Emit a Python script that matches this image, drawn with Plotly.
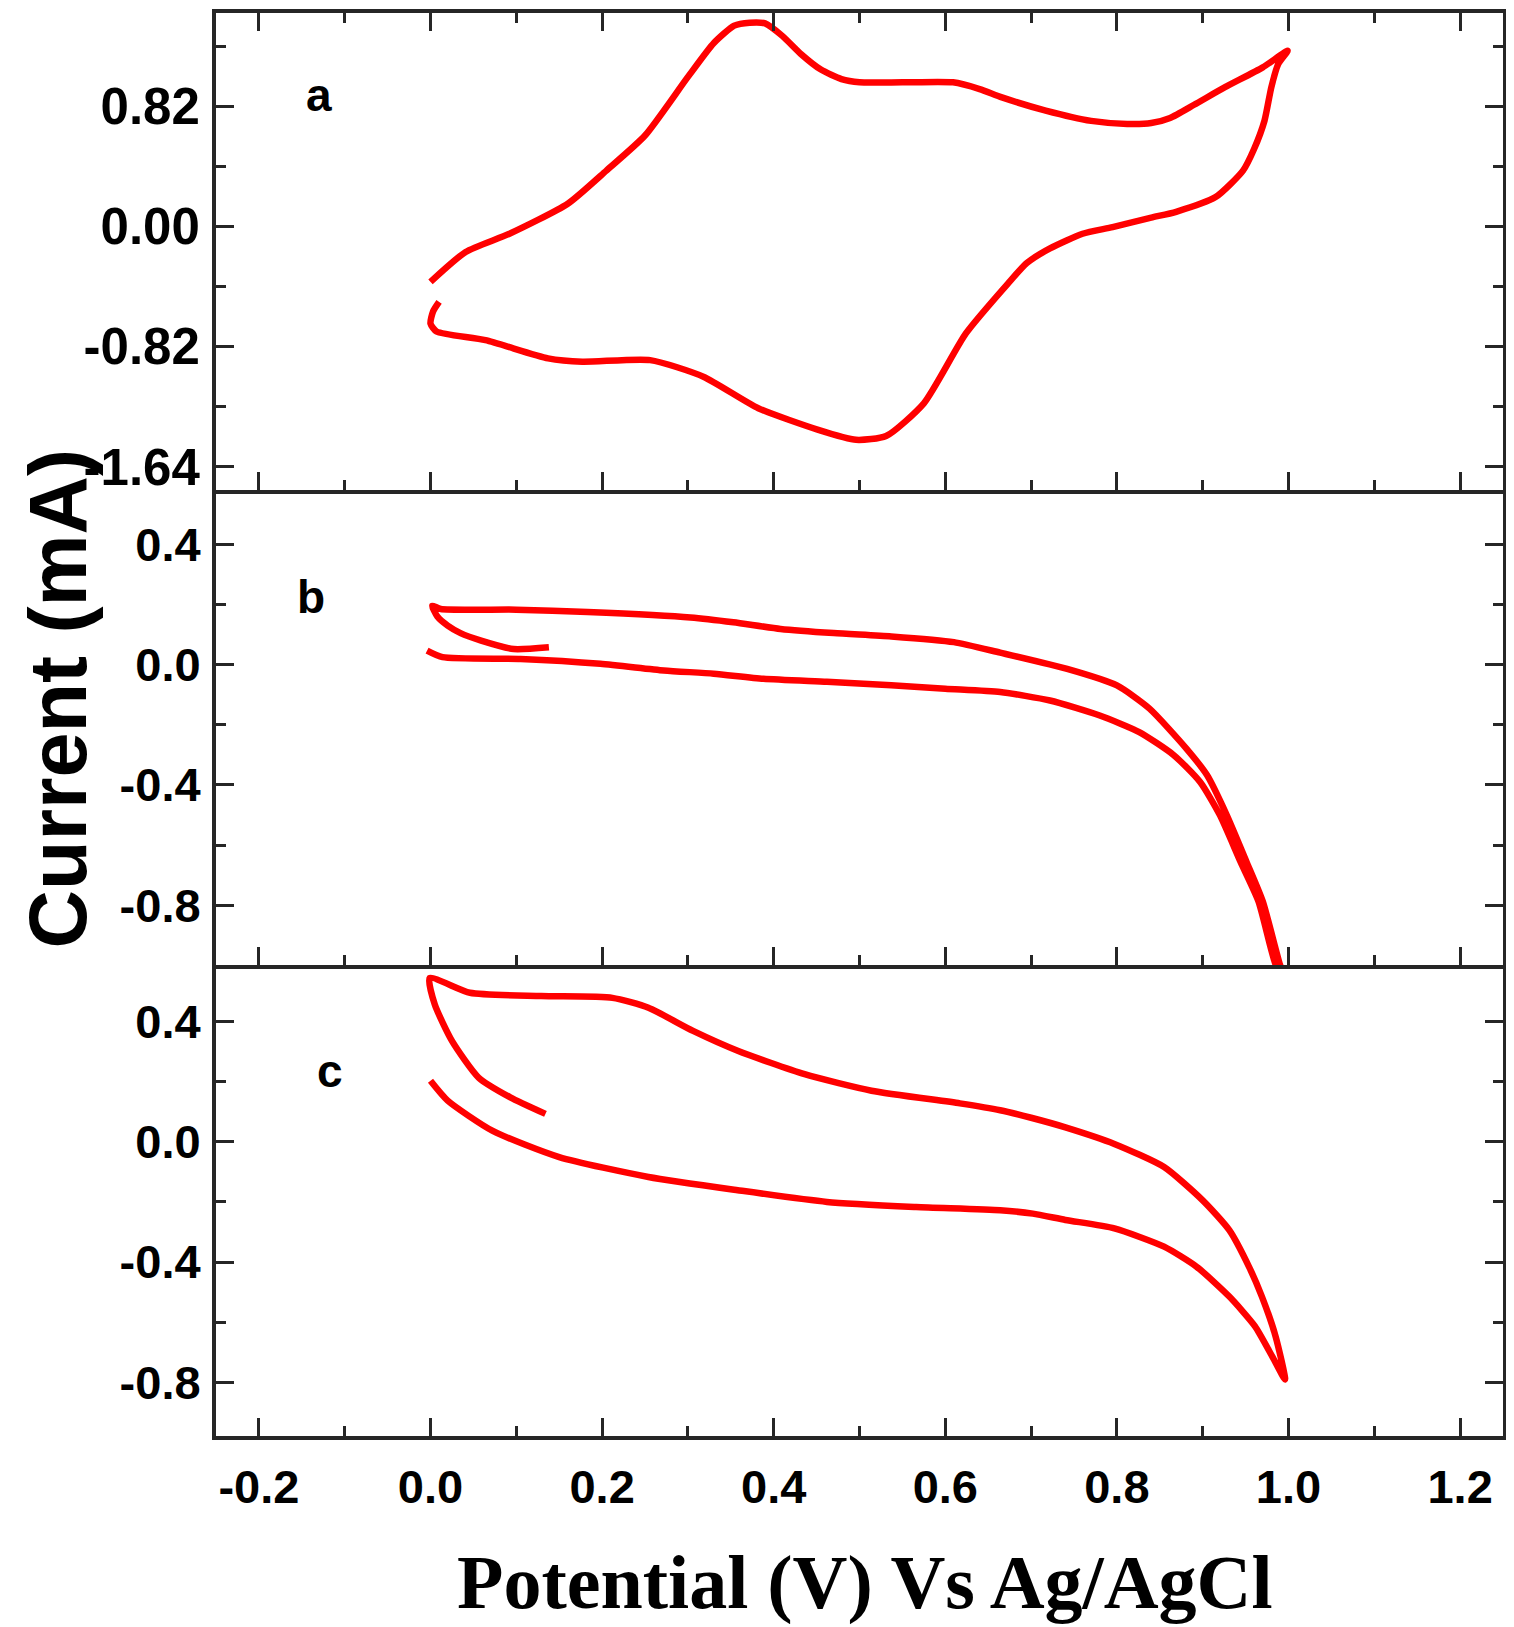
import plotly.graph_objects as go
from plotly.subplots import make_subplots

# panel a: potential (V) and current (mA), forward sweep then return sweep
a_volt = [0.000, 0.041, 0.092, 0.160, 0.205, 0.250, 0.300, 0.330, 0.354, 0.372, 0.390, 0.410,
          0.432, 0.455, 0.479, 0.500, 0.550, 0.609, 0.640, 0.666, 0.717, 0.770, 0.812, 0.840,
          0.862, 0.890, 0.926, 0.970, 0.999,
          0.988, 0.980, 0.972, 0.960, 0.947, 0.915, 0.869, 0.840, 0.795, 0.760, 0.722, 0.695,
          0.673, 0.624, 0.575, 0.531, 0.496, 0.452, 0.382, 0.318, 0.256, 0.177, 0.137, 0.064,
          0.007, 0.000, 0.003, 0.010]
a_curr = [-0.378, -0.174, -0.050, 0.155, 0.381, 0.620, 1.020, 1.250, 1.370, 1.390, 1.385, 1.300,
          1.175, 1.070, 1.005, 0.983, 0.983, 0.983, 0.937, 0.880, 0.790, 0.720, 0.699, 0.705,
          0.740, 0.830, 0.950, 1.085, 1.198,
          1.107, 0.950, 0.721, 0.530, 0.381, 0.200, 0.100, 0.060, -0.005, -0.050, -0.150, -0.250,
          -0.390, -0.730, -1.207, -1.430, -1.456, -1.388, -1.240, -1.025, -0.912, -0.923, -0.900, -0.776,
          -0.717, -0.663, -0.580, -0.515]

# panel b
b_volt = [0.138, 0.097, 0.059, 0.035, 0.020, 0.008, 0.002,
          0.012, 0.100, 0.183, 0.303, 0.353, 0.408, 0.470, 0.537, 0.610, 0.664,
          0.742, 0.800, 0.838, 0.881, 0.905, 0.928, 0.951, 0.970, 0.990, 0.998,
          0.985, 0.965, 0.944, 0.920, 0.897, 0.866, 0.826, 0.780, 0.722, 0.664, 0.600,
          0.537, 0.462, 0.388, 0.330, 0.272, 0.198, 0.105, 0.014, -0.004]
b_curr = [0.058, 0.052, 0.080, 0.105, 0.130, 0.160, 0.196,
          0.185, 0.183, 0.175, 0.157, 0.141, 0.119, 0.105, 0.094, 0.075, 0.040,
          -0.014, -0.069, -0.146, -0.279, -0.367, -0.500, -0.655, -0.787, -0.997, -1.060,
          -0.997, -0.787, -0.655, -0.500, -0.390, -0.300, -0.224, -0.169, -0.119, -0.091, -0.080,
          -0.068, -0.057, -0.047, -0.030, -0.019, 0.003, 0.019, 0.025, 0.047]

# panel c
c_volt = [0.134, 0.093, 0.056, 0.025, 0.005, -0.001,
          0.046, 0.129, 0.212, 0.254, 0.306, 0.358, 0.436, 0.514, 0.617, 0.664, 0.700, 0.740,
          0.797, 0.855, 0.900, 0.931, 0.954, 0.969, 0.985, 0.996,
          0.981, 0.961, 0.931, 0.893, 0.855, 0.797, 0.740, 0.702, 0.664, 0.566, 0.462, 0.358,
          0.254, 0.150, 0.072, 0.020, 0.000]
c_curr = [0.093, 0.148, 0.214, 0.336, 0.457, 0.545,
          0.496, 0.485, 0.479, 0.446, 0.369, 0.303, 0.225, 0.170, 0.128, 0.105, 0.080, 0.048,
          -0.007, -0.084, -0.195, -0.294, -0.416, -0.515, -0.648, -0.791,
          -0.714, -0.614, -0.515, -0.416, -0.349, -0.288, -0.260, -0.239, -0.228, -0.217, -0.200, -0.161,
          -0.117, -0.051, 0.037, 0.137, 0.203]

panel_letters = ['a', 'b', 'c']
letter_x = [-0.13, -0.139, -0.117]
letter_y = [0.90, 0.224, 0.236]

x_ticks = [-0.2, 0.0, 0.2, 0.4, 0.6, 0.8, 1.0, 1.2]
x_ticklabels = ['-0.2', '0.0', '0.2', '0.4', '0.6', '0.8', '1.0', '1.2']
x_minor = [-0.1, 0.1, 0.3, 0.5, 0.7, 0.9, 1.1]

a_ticks = [-1.64, -0.82, 0.0, 0.82]
a_ticklabels = ['-1.64', '-0.82', '0.00', '0.82']
a_minor = [-1.23, -0.41, 0.41, 1.23]
bc_ticks = [-0.8, -0.4, 0.0, 0.4]
bc_ticklabels = ['-0.8', '-0.4', '0.0', '0.4']
bc_minor = [-0.6, -0.2, 0.2]

y_ranges = [[-1.80, 1.456], [-1.0, 0.58], [-0.979, 0.587]]

RED = '#ff0000'
AXIS = '#262626'
SANS = 'Liberation Sans, Arial, sans-serif'
SERIF = 'Liberation Serif, Times New Roman, serif'

fig = make_subplots(rows=3, cols=1, shared_xaxes=True, vertical_spacing=0)

series = [(a_volt, a_curr), (b_volt, b_curr), (c_volt, c_curr)]
for row, (xs, ys) in enumerate(series, start=1):
    fig.add_trace(go.Scatter(x=xs, y=ys, mode='lines',
                             line=dict(color=RED, width=6.5, shape='spline', smoothing=0.6)),
                  row=row, col=1)

tick_font = dict(family=SANS, size=47, color='black', weight='bold')
common_x = dict(range=[-0.25, 1.25], tickmode='array', tickvals=x_ticks, ticktext=x_ticklabels,
                showline=True, linewidth=4, linecolor=AXIS, ticks='inside', ticklen=18,
                tickwidth=3, tickcolor=AXIS, showgrid=False, zeroline=False,
                minor=dict(tickmode='array', tickvals=x_minor, ticks='inside', ticklen=10,
                           tickwidth=3, tickcolor=AXIS, showgrid=False),
                tickfont=tick_font)
fig.update_xaxes(**common_x)
fig.update_xaxes(mirror='ticks', showticklabels=False, row=1, col=1)
fig.update_xaxes(mirror=False, showticklabels=False, row=2, col=1)
fig.update_xaxes(mirror=False, showticklabels=True, ticklabelstandoff=7, row=3, col=1)

domains = [[0.6646, 1.0], [0.3307, 0.6646], [0.0, 0.3307]]
y_tick_sets = [(a_ticks, a_ticklabels, a_minor), (bc_ticks, bc_ticklabels, bc_minor),
               (bc_ticks, bc_ticklabels, bc_minor)]
y_font_sizes = [51, 47, 47]
for row in range(3):
    vals, texts, minors = y_tick_sets[row]
    fig.update_yaxes(range=y_ranges[row], domain=domains[row], tickmode='array',
                     tickvals=vals, ticktext=texts, showline=True, linewidth=4,
                     linecolor=AXIS, mirror='ticks', ticks='inside', ticklen=18,
                     tickwidth=3, tickcolor=AXIS, showgrid=False, zeroline=False,
                     minor=dict(tickmode='array', tickvals=minors, ticks='inside',
                                ticklen=10, tickwidth=3, tickcolor=AXIS, showgrid=False),
                     tickfont=dict(tick_font, size=y_font_sizes[row]),
                     ticklabelstandoff=2, row=row + 1, col=1)

annotations = []
axis_ids = ['', '2', '3']
for letter, lx, ly, aid in zip(panel_letters, letter_x, letter_y, axis_ids):
    annotations.append(dict(text=letter, x=lx, y=ly, xref='x' + aid, yref='y' + aid,
                            showarrow=False, xanchor='center', yanchor='middle',
                            font=dict(family=SANS, size=46, color='black', weight='bold')))

annotations.append(dict(text='Current (mA)', x=-0.123, y=0.518, xref='paper', yref='paper',
                        textangle=-90, showarrow=False, xanchor='center', yanchor='middle',
                        font=dict(family=SANS, size=81, color='black', weight='bold')))
annotations.append(dict(text='Potential (V) Vs Ag/AgCl', x=0.504, y=-0.103, xref='paper',
                        yref='paper', showarrow=False, xanchor='center', yanchor='middle',
                        font=dict(family=SERIF, size=76, color='black', weight='bold')))

# the page body offsets the figure a little, so the margins absorb it
fig.update_layout(width=1514, height=1627, showlegend=False,
                  margin=dict(l=208, r=19, t=1, b=199),
                  plot_bgcolor='white', paper_bgcolor='white',
                  annotations=annotations)

fig.write_html("out.html")
